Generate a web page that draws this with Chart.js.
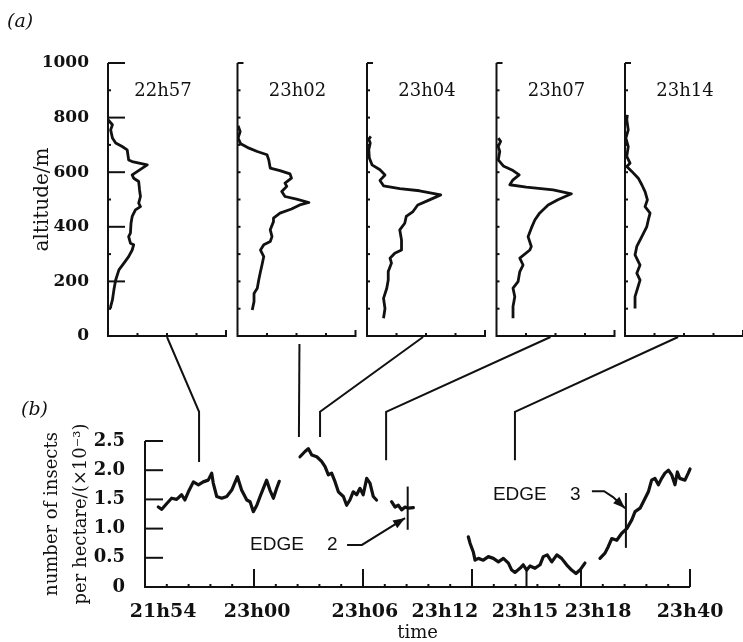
<!DOCTYPE html>
<html>
<head>
<meta charset="utf-8">
<script src="https://cdn.jsdelivr.net/npm/chart.js@4.4.1/dist/chart.umd.min.js"></script>
<style>
body{margin:0;background:#fff;}
#wrap{position:relative;width:743px;height:642px;overflow:hidden;}
#wrap canvas{position:absolute;left:0;top:0;}
</style>
</head>
<body>
<div id="wrap">
<canvas id="cb" width="743" height="642"></canvas>
<canvas id="p0" width="743" height="642"></canvas>
<canvas id="p1" width="743" height="642"></canvas>
<canvas id="p2" width="743" height="642"></canvas>
<canvas id="p3" width="743" height="642"></canvas>
<canvas id="p4" width="743" height="642"></canvas>
</div>
<script>
// (a) vertical profiles: altitude (m) against density (axis runs 0-4, unlabelled)
const profileTimes = ['22h57', '23h02', '23h04', '23h07', '23h14'];

const alt1 = [101,108,132,169,205,242,267,291,315,334,340,364,377,413,438,462,474,487,511,535,566,578,590,627,639,645,682,694,707,725,755,774,792];
const dens1 = [0.10,0.09,0.15,0.20,0.26,0.37,0.54,0.70,0.82,0.87,0.76,0.70,0.76,0.78,0.82,0.93,1.10,1.04,1.10,1.07,1.04,0.87,0.82,1.33,0.82,0.70,0.65,0.48,0.26,0.15,0.09,0.15,0.0];

const alt2 = [95,126,156,175,205,236,260,291,315,334,346,364,389,419,432,450,465,480,489,501,511,529,548,560,578,594,606,615,645,664,676,688,704,725,749,770];
const dens2 = [0.50,0.56,0.56,0.67,0.72,0.78,0.83,0.89,0.78,0.89,1.11,1.17,1.11,1.22,1.22,1.44,1.83,2.11,2.42,2.00,1.61,1.50,1.67,1.61,1.83,1.78,1.44,1.11,1.06,1.00,0.67,0.39,0.11,0.02,0.09,0.02];

const alt3 = [65,101,138,175,205,236,267,285,303,315,352,389,413,438,456,480,496,517,532,540,550,570,590,609,627,652,682,707,721,731];
const dens3 = [0.56,0.61,0.56,0.67,0.72,0.72,0.83,0.78,0.94,1.17,1.17,1.11,1.28,1.33,1.56,1.72,2.06,2.50,1.78,1.11,0.56,0.44,0.61,0.44,0.17,0.08,0.06,0.11,0.06,0.13];

const alt4 = [65,108,144,175,199,236,260,285,315,328,364,395,425,450,480,499,521,535,545,554,572,590,606,623,645,676,694,713,725];
const dens4 = [0.56,0.56,0.62,0.56,0.73,0.79,0.90,0.79,1.13,1.18,1.07,1.18,1.30,1.46,1.75,2.08,2.54,1.92,1.01,0.45,0.56,0.77,0.56,0.23,0.06,0.11,0.06,0.14,0.06];

const alt5 = [101,144,205,230,260,297,328,364,401,425,450,474,499,529,554,578,603,621,633,658,694,725,755,792,810];
const dens5 = [0.34,0.34,0.51,0.40,0.51,0.34,0.40,0.57,0.74,0.79,0.85,0.68,0.76,0.68,0.57,0.45,0.23,0.06,0.17,0.06,0.11,0.03,0.11,0.06,0.08];

// (b) time series, x in tick units (one small tick per unit)
const timeTickPos = [0.83, 5.14, 10.09, 13.76, 17.43, 20.78, 25];
const timeLabels = ['21h54', '23h00', '23h06', '23h12', '23h15', '23h18', '23h40'];
const majorTickPos = [5, 10, 15, 17.5, 20, 25];

const seg1X = [0.61,0.77,1.00,1.22,1.45,1.68,1.83,1.99,2.22,2.45,2.67,2.90,3.06,3.13,3.29,3.52,3.75,3.98,4.24,4.43,4.67,4.82,4.97,5.13,5.28,5.46,5.58,5.73,5.89,6.04,6.16];
const seg1Y = [1.37,1.33,1.43,1.52,1.50,1.58,1.49,1.63,1.80,1.75,1.80,1.83,1.95,1.78,1.55,1.52,1.55,1.66,1.89,1.66,1.49,1.46,1.29,1.40,1.55,1.72,1.83,1.66,1.52,1.69,1.81];
const seg2X = [7.11,7.34,7.49,7.65,7.88,8.10,8.26,8.41,8.56,8.72,8.87,9.10,9.25,9.40,9.55,9.71,9.86,10.01,10.17,10.32,10.47,10.62];
const seg2Y = [2.23,2.32,2.37,2.26,2.23,2.15,2.06,1.92,1.95,1.80,1.63,1.55,1.40,1.49,1.63,1.58,1.69,1.58,1.86,1.78,1.55,1.49];
const seg3X = [11.31,11.47,11.62,11.77,11.93,12.08,12.31];
const seg3Y = [1.46,1.37,1.40,1.32,1.37,1.35,1.36];
const seg4X = [14.83,14.91,15.06,15.14,15.29,15.52,15.75,15.98,16.21,16.44,16.67,16.82,16.97,17.20,17.35,17.51,17.66,17.89,18.12,18.27,18.45,18.66,18.89,19.11,19.34,19.57,19.77,19.95,20.18];
const seg4Y = [0.86,0.75,0.60,0.46,0.49,0.46,0.52,0.49,0.43,0.49,0.41,0.29,0.25,0.32,0.38,0.29,0.36,0.32,0.38,0.52,0.55,0.43,0.55,0.49,0.38,0.29,0.23,0.29,0.41];
const seg5X = [20.87,21.10,21.25,21.41,21.64,21.87,22.10,22.33,22.48,22.71,22.86,23.09,23.24,23.39,23.55,23.70,23.85,24.01,24.16,24.31,24.42,24.53,24.77,24.92,25.0];
const seg5Y = [0.49,0.58,0.69,0.83,0.80,0.92,1.00,1.15,1.29,1.35,1.46,1.63,1.83,1.86,1.75,1.86,1.95,2.00,1.92,1.75,1.97,1.86,1.83,1.95,2.02];

// edge markers
const edgeX = [12.05, 22.06];
const edgeTop = [1.72, 1.61];
const edgeBottom = [0.98, 0.67];

// connectors profile -> time series
const connTopX = [2.0, 2.1, 1.9, 1.83, 1.8];
const connBottomX = [2.48, 7.06, 8.03, 11.06, 16.97];
const connBottomY = [2.14, 2.57, 2.57, 2.17, 2.17];
const connBendY = [3.0, null, 3.0, 3.0, 3.0];

const W = 743, H = 642;
const panelLeft = [108, 237.5, 367, 496.5, 625];
const panelWidth = 118;
const panelTop = 63, panelBottom = 336;
const ink = '#111';
const serif = '"DejaVu Serif", "Liberation Serif", serif';

function line(ctx, pts, w){
    ctx.save();
    ctx.strokeStyle = ink;
    ctx.lineWidth = w;
    ctx.beginPath();
    pts.forEach((p, i) => i ? ctx.lineTo(p[0], p[1]) : ctx.moveTo(p[0], p[1]));
    ctx.stroke();
    ctx.restore();
}

function arrow(ctx, pts){
    line(ctx, pts, 2);
    const a = pts[pts.length - 2], b = pts[pts.length - 1];
    const ang = Math.atan2(b[1] - a[1], b[0] - a[0]);
    ctx.save();
    ctx.fillStyle = ink;
    ctx.translate(b[0], b[1]);
    ctx.rotate(ang);
    ctx.beginPath();
    ctx.moveTo(0, 0);
    ctx.lineTo(-12, -4.5);
    ctx.lineTo(-12, 4.5);
    ctx.closePath();
    ctx.fill();
    ctx.restore();
}

function profileFrame(idx){
    return {
        id: 'frame' + idx,
        afterDraw(chart){
            const ctx = chart.ctx, x = chart.scales.x, y = chart.scales.y;
            const x0 = x.getPixelForValue(0), x4 = x.getPixelForValue(4);
            const y0 = y.getPixelForValue(0), yTop = y.getPixelForValue(1000);
            line(ctx, [[x0, yTop], [x0, y0], [x4, y0], [x4, y0 - 6]], 2);
            for (let v = 1; v < 4; v++){
                const px = x.getPixelForValue(v);
                line(ctx, [[px, y0], [px, y0 - 3]], 2);
            }
            for (let a = 100; a <= 1000; a += 100){
                const py = y.getPixelForValue(a);
                let len = 3;
                if (idx === 0 && a % 200 === 0) len = 17;
                else if (a === 1000) len = 6;
                line(ctx, [[x0, py], [x0 + len, py]], 2);
            }
            ctx.save();
            ctx.fillStyle = ink;
            ctx.font = '18px ' + serif;
            ctx.textAlign = 'center';
            ctx.textBaseline = 'middle';
            ctx.fillText(profileTimes[idx], x0 + (idx === 0 ? 55 : 60), y.getPixelForValue(895));
            ctx.restore();
        }
    };
}

const alts = [alt1, alt2, alt3, alt4, alt5];
const dens = [dens1, dens2, dens3, dens4, dens5];

const profileCharts = alts.map((alt, i) => new Chart(document.getElementById('p' + i), {
    type: 'scatter',
    data: {
        datasets: [{
            data: alt.map((a, k) => ({x: dens[i][k], y: a})),
            showLine: true,
            borderColor: ink,
            borderWidth: 2.8,
            borderJoinStyle: 'round',
            pointRadius: 0,
            tension: 0
        }]
    },
    options: {
        responsive: false,
        animation: false,
        devicePixelRatio: 1,
        events: [],
        layout: {padding: {left: i === 0 ? 0 : panelLeft[i], right: W - panelLeft[i] - panelWidth, top: panelTop, bottom: H - panelBottom}},
        plugins: {legend: {display: false}, tooltip: {enabled: false}},
        scales: {
            x: {type: 'linear', min: 0, max: 4, display: false},
            y: {
                type: 'linear', min: 0, max: 1000, display: i === 0,
                afterFit: s => { if (i === 0) s.width = panelLeft[0]; },
                grid: {display: false},
                border: {display: false},
                ticks: {stepSize: 200, padding: 11, color: ink, font: {family: serif, size: 17, weight: 'bold'},
                    callback: v => String(v)},
                title: {display: true, text: 'altitude/m', color: ink, font: {family: serif, size: 20}, padding: {top: 31, bottom: 0}}
            }
        }
    },
    plugins: [profileFrame(i)]
}));

const bFrame = {
    id: 'bFrame',
    afterDraw(chart){
        const ctx = chart.ctx, x = chart.scales.x, y = chart.scales.y;
        const X = v => x.getPixelForValue(v), Y = v => y.getPixelForValue(v);
        line(ctx, [[X(0), Y(2.5)], [X(0), Y(0)], [X(25), Y(0)]], 2);
        for (let v = 0.5; v <= 2.5; v += 0.5) line(ctx, [[X(0), Y(v)], [X(0) + 18, Y(v)]], 2);
        for (let u = 1; u < 25; u++) line(ctx, [[X(u), Y(0)], [X(u), Y(0) - 3]], 2);
        majorTickPos.forEach(u => line(ctx, [[X(u), Y(0)], [X(u), Y(0) - 18]], 2));
        edgeX.forEach((u, i) => line(ctx, [[X(u), Y(edgeTop[i])], [X(u), Y(edgeBottom[i])]], 2));

        profileCharts.forEach((pc, i) => {
            const tx = pc.scales.x.getPixelForValue(connTopX[i]);
            const ty = pc.scales.y.getPixelForValue(0) + (connBendY[i] === null ? 8 : 1);
            const pts = [[tx, ty]];
            if (connBendY[i] !== null) pts.push([X(connBottomX[i]), Y(connBendY[i])]);
            pts.push([X(connBottomX[i]), Y(connBottomY[i])]);
            line(ctx, pts, 2);
        });

        ctx.save();
        ctx.fillStyle = ink;
        ctx.font = '19px "Liberation Sans", Arial, sans-serif';
        ctx.textBaseline = 'middle';
        ctx.fillText('EDGE', X(4.82), Y(0.72));
        ctx.fillText('2', X(8.35), Y(0.72));
        ctx.fillText('EDGE', X(15.96), Y(1.58));
        ctx.fillText('3', X(19.5), Y(1.58));
        ctx.font = 'italic 19px ' + serif;
        ctx.fillText('(a)', 7, 22);
        ctx.fillText('(b)', 21, 410);
        ctx.restore();

        arrow(ctx, [[X(9.27), Y(0.72)], [X(9.95), Y(0.72)], [X(11.93), Y(1.18)]]);
        arrow(ctx, [[X(20.5), Y(1.64)], [X(21.06), Y(1.64)], [X(21.47), Y(1.54)], [X(22.02), Y(1.35)]]);
    }
};

function seg(xs, ys){
    return {
        data: xs.map((v, k) => ({x: v, y: ys[k]})),
        showLine: true,
        borderColor: ink,
        borderWidth: 3.2,
        borderJoinStyle: 'round',
        borderCapStyle: 'round',
        pointRadius: 0,
        tension: 0,
        clip: false
    };
}

new Chart(document.getElementById('cb'), {
    type: 'scatter',
    data: {datasets: [seg(seg1X, seg1Y), seg(seg2X, seg2Y), seg(seg3X, seg3Y), seg(seg4X, seg4Y), seg(seg5X, seg5Y)]},
    options: {
        responsive: false,
        animation: false,
        devicePixelRatio: 1,
        events: [],
        layout: {padding: {left: 0, right: 53, top: 441, bottom: 0}},
        plugins: {legend: {display: false}, tooltip: {enabled: false}},
        scales: {
            x: {
                type: 'linear', min: 0, max: 25,
                afterFit: s => { s.height = 55; },
                afterBuildTicks: s => { s.ticks = timeTickPos.map(v => ({value: v})); },
                grid: {display: false},
                border: {display: false},
                ticks: {autoSkip: false, maxRotation: 0, padding: 6, color: ink,
                    font: {family: serif, size: 19, weight: 'bold'},
                    callback: (v, i) => timeLabels[i]},
                title: {display: true, text: 'time', color: ink, font: {family: serif, size: 18, lineHeight: 1}, padding: {top: 0, bottom: 0}}
            },
            y: {
                type: 'linear', min: 0, max: 2.5,
                afterFit: s => { s.width = 145; },
                grid: {display: false},
                border: {display: false},
                ticks: {stepSize: 0.5, padding: 12, color: ink,
                    font: {family: serif, size: 18, weight: 'bold'},
                    callback: v => v === 0 ? '0' : v.toFixed(1)},
                title: {display: true, text: ['number of insects', 'per hectare/(\u00d710\u207b\u00b3)'], color: ink,
                    font: {family: serif, size: 18, lineHeight: 1.6}, padding: {top: 38, bottom: 0}}
            }
        }
    },
    plugins: [bFrame]
});
</script>
</body>
</html>
